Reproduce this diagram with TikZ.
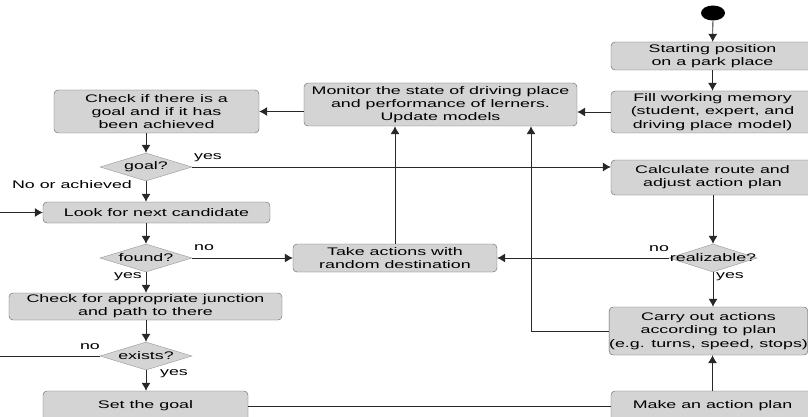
\documentclass[tikz,border=0pt]{standalone}
\usepackage{fontspec}
\setmainfont[FakeStretch=1.62]{Liberation Sans}
\usetikzlibrary{shapes.geometric,arrows.meta}
\definecolor{boxgray}{RGB}{212,212,212}
\definecolor{edgegray}{RGB}{95,95,95}
\definecolor{diagray}{RGB}{150,150,150}
\definecolor{linegray}{RGB}{40,40,40}
\begin{document}
\begin{tikzpicture}[x=1pt,y=-1pt,
  font=\fontsize{11}{13.3}\selectfont,
  act/.style={draw=edgegray, fill=boxgray, rounded corners=4pt, align=center, inner sep=0pt},
  dec/.style={diamond, draw=diagray, fill=boxgray, inner sep=0pt, minimum height=28pt},
  flow/.style={draw=linegray, line width=0.8pt},
  arr/.style={flow, -{Latex[length=8pt,width=9pt]}},
  lbl/.style={inner sep=0pt}]
	\useasboundingbox (0,0) rectangle (808,417);

	% right column
	\node[ellipse, fill=black, minimum width=24pt, minimum height=15pt, inner sep=0pt] (start) at (713,13) {};
	\node[act, minimum width=203pt, minimum height=28pt] (startpos) at (712.5,56) {Starting position\\on a park place};
	\node[act, minimum width=203pt, minimum height=42pt] (fill) at (712.5,112) {Fill working memory\\(student, expert, and\\driving place model)};
	\node[act, minimum width=203pt, minimum height=35pt] (calc) at (712.5,177.5) {Calculate route and\\adjust action plan};
	\node[dec, minimum width=88pt] (realq) at (713,258) {\makebox[0pt]{realizable?}};
	\node[act, minimum width=195pt, minimum height=48pt] (carry) at (708.5,331) {Carry out actions\\according to plan\\(e.g. turns, speed, stops)};
	\node[act, minimum width=203pt, minimum height=30pt] (plan) at (712.5,406) {Make an action plan};

	% middle
	\node[act, minimum width=273pt, minimum height=43pt] (monitor) at (440.5,104.5) {Monitor the state of driving place\\and performance of lerners.\\Update models};
	\node[act, minimum width=204pt, minimum height=28pt] (take) at (395,258) {Take actions with\\random destination};

	% left column
	\node[act, minimum width=205pt, minimum height=43pt] (check) at (156.5,111.5) {Check if there is a\\goal and if it has\\been achieved};
	\node[dec, minimum width=92pt] (goalq) at (146,167) {\makebox[0pt]{goal?}};
	\node[act, minimum width=227pt, minimum height=21pt] (look) at (156.5,212.5) {Look for next candidate};
	\node[dec, minimum width=92pt] (foundq) at (146,258) {\makebox[0pt]{found?}};
	\node[act, minimum width=273pt, minimum height=27pt] (junction) at (145.5,306.5) {Check for appropriate junction\\and path to there};
	\node[dec, minimum width=92pt] (existsq) at (146,356) {\makebox[0pt]{exists?}};
	\node[act, minimum width=205pt, minimum height=30pt] (setgoal) at (145.5,406) {Set the goal};

	\coordinate (loopin) at (0,212.5);
	\coordinate (loopout) at (0,356);

	% labels
	\node[lbl] (goalyes) at (208,158) {yes};
	\node[lbl] (goalno) at (72,185) {No or achieved};
	\node[lbl] (foundno) at (204,248) {no};
	\node[lbl] (foundyes) at (128,277) {yes};
	\node[lbl] (existsno) at (90,347) {no};
	\node[lbl] (existsyes) at (174,374) {yes};
	\node[lbl] (realno) at (659,249) {no};
	\node[lbl] (realyes) at (730,277) {yes};

	% connectors
	\draw[arr] (start) -- (startpos);
	\draw[arr] (startpos) -- (fill);
	\draw[arr] (fill.west) -- (fill.west -| monitor.east);
	\draw[arr] (check.east -| monitor.west) -- (check.east);
	\draw[arr] (check.south -| goalq.north) -- (goalq.north);
	\draw[arr] (goalq.east) -- (goalq.east -| calc.west);
	\draw[arr] (goalq.south) -- (goalq.south |- look.north);
	\draw[arr] (loopin) -- (look.west);
	\draw[arr] (look.south -| foundq.north) -- (foundq.north);
	\draw[arr] (foundq.east) -- (take.west);
	\draw[arr] (foundq.south) -- (foundq.south |- junction.north);
	\draw[arr] (junction.south -| existsq.north) -- (existsq.north);
	\draw[flow] (existsq.west) -- (loopout);
	\draw[arr] (existsq.south) -- (existsq.south |- setgoal.north);
	\draw[flow] (setgoal.east) -- (setgoal.east -| plan.west);
	\draw[arr] (plan.north) -- (plan.north |- carry.south);
	\draw[arr] (carry.west) -| ([xshift=90.5pt]monitor.south);
	\draw[arr] (take.north) -- (take.north |- monitor.south);
	\draw[arr] (calc.south -| realq.north) -- (realq.north);
	\draw[arr] (realq.west) -- (take.east);
	\draw[arr] (realq.south) -- (realq.south |- carry.north);
\end{tikzpicture}
\end{document}
